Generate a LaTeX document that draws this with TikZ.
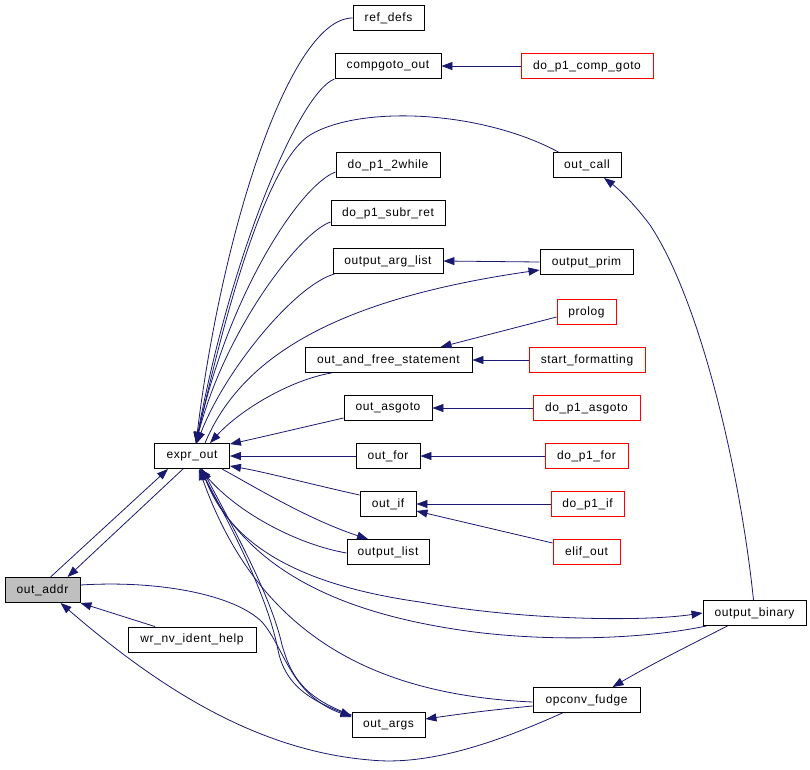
\documentclass[tikz,border=0pt]{standalone}
\usepackage{fontspec}
\setmainfont{Liberation Sans}[LetterSpace=5]
\usetikzlibrary{arrows.meta}
\definecolor{edgec}{HTML}{191970}
\definecolor{redc}{HTML}{FF0000}
\definecolor{grayfill}{HTML}{BFBFBF}
\tikzset{
  box/.style={draw=black, line width=0.9pt, fill=white, inner sep=0pt, minimum height=25pt, font=\fontsize{12}{14}\selectfont},
  redbox/.style={box, draw=redc},
  edge/.style={draw=edgec, line width=0.8pt, -{Triangle[length=11pt,width=8pt]}},
}
\begin{document}
\begin{tikzpicture}[x=1pt,y=-1pt]
\useasboundingbox (0,0) rectangle (810,769);
% nodes
\node[box,minimum width=71pt]  (ref_defs) at (388.5,18) {ref\_defs};
\node[box,minimum width=106pt] (compgoto_out) at (388,66) {compgoto\_out};
\node[redbox,minimum width=132pt] (do_p1_comp_goto) at (587,66) {do\_p1\_comp\_goto};
\node[box,minimum width=104pt] (do_p1_2while) at (388,165) {do\_p1\_2while};
\node[box,minimum width=68pt]  (out_call) at (587,165) {out\_call};
\node[box,minimum width=114pt] (do_p1_subr_ret) at (388,213) {do\_p1\_subr\_ret};
\node[box,minimum width=110pt] (output_arg_list) at (388,261) {output\_arg\_list};
\node[box,minimum width=93pt]  (output_prim) at (586.5,262) {output\_prim};
\node[redbox,minimum width=59pt] (prolog) at (586.5,312) {prolog};
\node[box,minimum width=167pt] (out_and_free_statement) at (388.5,360) {out\_and\_free\_statement};
\node[redbox,minimum width=116pt] (start_formatting) at (587,360) {start\_formatting};
\node[box,minimum width=88pt]  (out_asgoto) at (388,408) {out\_asgoto};
\node[redbox,minimum width=107pt] (do_p1_asgoto) at (586.5,408) {do\_p1\_asgoto};
\node[box,minimum width=75pt]  (expr_out) at (192,456) {expr\_out};
\node[box,minimum width=64pt]  (out_for) at (388,456) {out\_for};
\node[redbox,minimum width=83pt] (do_p1_for) at (586.5,456) {do\_p1\_for};
\node[box,minimum width=56pt]  (out_if) at (388,504) {out\_if};
\node[redbox,minimum width=73pt] (do_p1_if) at (587.5,504) {do\_p1\_if};
\node[box,minimum width=82pt]  (output_list) at (388,552) {output\_list};
\node[redbox,minimum width=67pt] (elif_out) at (586.5,552) {elif\_out};
\node[box,fill=grayfill,minimum width=75pt] (out_addr) at (42.5,590) {out\_addr};
\node[box,minimum width=103pt] (output_binary) at (754.5,613) {output\_binary};
\node[box,minimum width=128pt] (wr_nv_ident_help) at (192,639.5) {wr\_nv\_ident\_help};
\node[box,minimum width=107pt] (opconv_fudge) at (586.5,700) {opconv\_fudge};
\node[box,minimum width=73pt]  (out_args) at (388.5,725) {out\_args};
% edges into top of expr_out
\draw[edge] (ref_defs.west) .. controls (290,18) and (222,230) .. ([xshift=4pt]expr_out.north);
\draw[edge] (compgoto_out.south west) .. controls (300,92) and (232,250) .. ([xshift=4pt]expr_out.north);
\draw[edge] ([xshift=6pt]out_call.north west) .. controls (480,110) and (360,105) .. (310,135) .. controls (270,160) and (230,290) .. ([xshift=4pt]expr_out.north);
\draw[edge] ([yshift=-7pt]do_p1_2while.west) .. controls (300,185) and (228,295) .. ([xshift=4pt]expr_out.north);
\draw[edge] ([yshift=-9pt]do_p1_subr_ret.west) .. controls (300,232) and (225,330) .. ([xshift=4pt]expr_out.north);
\draw[edge] ([xshift=2pt]output_arg_list.south west) .. controls (295,285) and (225,370) .. ([xshift=5pt]expr_out.north);
\draw[edge] ([xshift=13pt]expr_out.north) .. controls (240,360) and (330,300) .. ([yshift=-8pt]output_prim.west);
\draw[edge] (output_prim.west) -- (output_arg_list.east);
\draw[edge] (do_p1_comp_goto) -- (compgoto_out);
\draw[edge] ([xshift=27pt]out_and_free_statement.south west) .. controls (290,380) and (240,410) .. ([xshift=18pt]expr_out.north);
\draw[edge] ([yshift=-5pt]prolog.west) -- ([xshift=52pt]out_and_free_statement.north);
\draw[edge] (start_formatting) -- (out_and_free_statement);
\draw[edge] ([yshift=-10pt]out_asgoto.west) .. controls (300,428) and (262,437) .. ([yshift=-1pt]expr_out.north east);
\draw[edge] (do_p1_asgoto) -- (out_asgoto);
\draw[edge] (out_for) -- (expr_out);
\draw[edge] (do_p1_for) -- (out_for);
\draw[edge] ([yshift=9pt]out_if.west) .. controls (310,484) and (265,472) .. ([yshift=-10pt]expr_out.east);
\draw[edge] (do_p1_if) -- (out_if);
\draw[edge] ([yshift=9pt]elif_out.west) -- ([yshift=-7pt]out_if.east);
% edges below expr_out
\draw[edge] ([xshift=30pt]expr_out.south) .. controls (260,490) and (310,520) .. ([xshift=-20pt]output_list.north);
\draw[edge] ([yshift=-1pt]output_list.west) .. controls (300,545) and (240,515) .. ([xshift=8pt]expr_out.south);
\draw[edge] ([xshift=10pt]expr_out.south) .. controls (225,545) and (300,585) .. (420,602) .. controls (520,620) and (640,622) .. (output_binary.west);
\draw[edge] ([xshift=4pt]output_binary.south west) .. controls (640,640) and (540,642) .. (460,630) .. controls (360,615) and (250,580) .. ([xshift=9pt]expr_out.south);
\draw[edge] ([yshift=-2pt]opconv_fudge.west) .. controls (380,695) and (260,640) .. ([xshift=7pt]expr_out.south);
\draw[edge] ([xshift=8pt]expr_out.south) .. controls (250,560) and (270,610) .. (278,650) .. controls (285,685) and (310,700) .. ([yshift=9pt]out_args.west);
\draw[edge] ([yshift=10pt]out_args.west) .. controls (300,697) and (290,672) .. (282,645) .. controls (272,600) and (240,540) .. ([xshift=10pt]expr_out.south);
\draw[edge] ([yshift=5pt]out_addr.east) .. controls (160,580) and (235,595) .. (262,622) .. controls (285,648) and (290,695) .. ([yshift=8pt]out_args.west);
\draw[edge] ([xshift=8pt]out_addr.north) -- ([xshift=-24pt]expr_out.south);
\draw[edge] ([xshift=-9pt]expr_out.south) -- ([xshift=25pt]out_addr.north);
\draw[edge] ([xshift=-37pt]wr_nv_ident_help.north) -- (out_addr.south east);
\draw[edge] ([xshift=-24pt]opconv_fudge.south) .. controls (480,750) and (420,765) .. (370,760) .. controls (250,750) and (150,680) .. ([xshift=18pt]out_addr.south);
\draw[edge] ([xshift=-27pt]output_binary.south) .. controls (690,645) and (650,665) .. ([xshift=26pt]opconv_fudge.north);
\draw[edge] ([yshift=-6pt]opconv_fudge.west) .. controls (490,710) and (460,714) .. ([yshift=6pt]out_args.east);
\draw[edge] ([xshift=-1pt]output_binary.north) .. controls (740,470) and (700,300) .. (650,225) .. controls (635,205) and (620,190) .. ([xshift=17pt]out_call.south);
\end{tikzpicture}
\end{document}
